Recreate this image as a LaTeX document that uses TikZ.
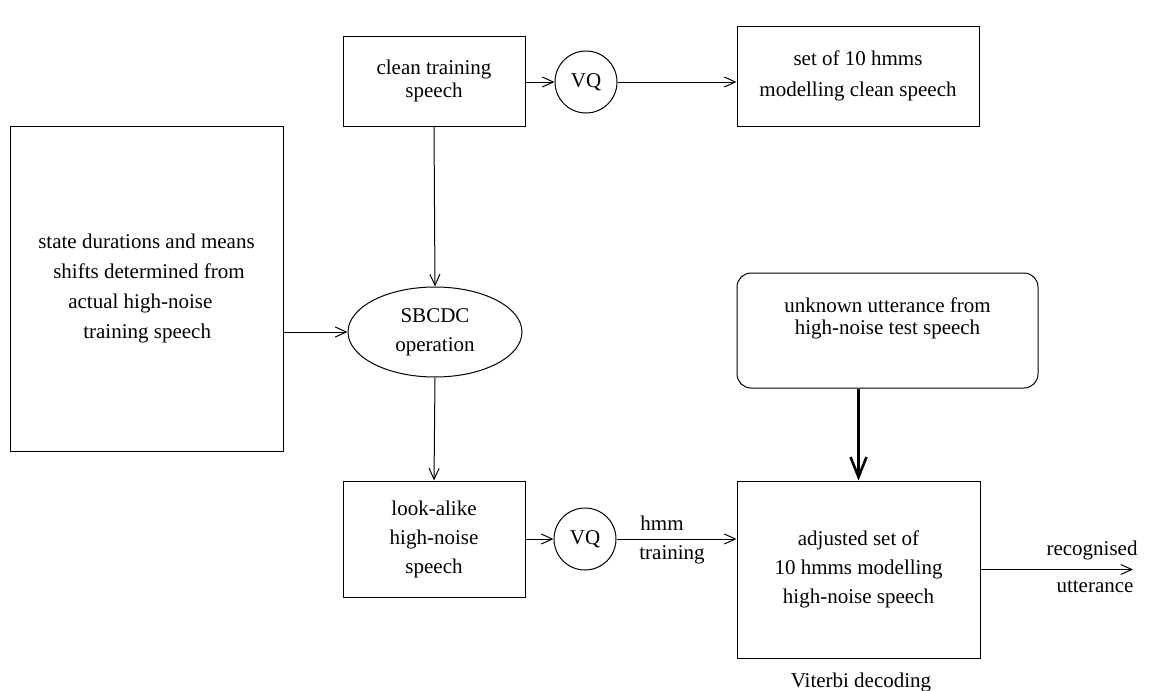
\documentclass[tikz,border=0pt]{standalone}
\usepackage{fontspec}
\setmainfont{Liberation Serif}
\newfontfamily\tms{Liberation Serif}
\usetikzlibrary{arrows.meta,shapes.geometric}
\tikzset{
  txt/.style={font=\tms\fontsize{21}{29}\selectfont, align=center, inner sep=0pt},
  box/.style={txt, draw, line width=1pt},
  vq/.style={txt, draw, circle, line width=1pt, minimum size=62pt},
  arr/.style={line width=1pt, -{Straight Barb[length=11pt,width=10pt]}},
  thickarr/.style={line width=2.6pt, -{Straight Barb[length=20pt,width=16pt]}},
}
\begin{document}
\begin{tikzpicture}[x=1pt,y=-1pt]
\useasboundingbox (0,0) rectangle (1149,691);
% nodes
\node[box, align=left, minimum width=273pt, minimum height=325pt, font=\tms\fontsize{21}{30}\selectfont] (lb) at (146.5,288.5)
  {state durations and means\\\hspace*{15pt}shifts determined from\\\hspace*{30pt}actual high-noise\\\hspace*{45pt}training speech};
\node[box, minimum width=182pt, minimum height=90pt, font=\tms\fontsize{21}{23}\selectfont] (ctb) at (434,81)
  {clean training\\speech};
\node[vq] (vq1) at (586,82) {VQ};
\node[box, minimum width=242pt, minimum height=100pt, font=\tms\fontsize{21}{31}\selectfont] (csb) at (858,76)
  {set of 10 hmms\\modelling clean speech};
\node[txt, draw, ellipse, line width=1pt, minimum width=174pt, minimum height=90pt] (op) at (435,332)
  {SBCDC\\operation};
\node[box, minimum width=182pt, minimum height=116pt] (lab) at (434,539)
  {look-alike\\high-noise\\speech};
\node[vq] (vq2) at (585,539) {VQ};
\node[box, rounded corners=14pt, minimum width=301pt, minimum height=115pt, font=\tms\fontsize{21}{22}\selectfont] (ub) at (887.5,330.5)
  {unknown utterance from\\high-noise test speech\\[6pt]};
\node[box, minimum width=243pt, minimum height=177pt] (adj) at (858.5,569.5)
  {adjusted set of\\10 hmms modelling\\high-noise speech};
\node[txt] (vit) at (861,682) {Viterbi decoding};
\node[txt] (hmm) at (662,523) {hmm};
\node[txt] (trn) at (672,555) {training};
\node[txt] (rec) at (1092,550) {recognised};
\node[txt] (utt) at (1095,587) {utterance};
\coordinate (out) at (1133,569.5);
% connectors
\draw[arr] (ctb.east |- vq1) -- (vq1.west);
\draw[arr] (vq1.east) -- (vq1.east -| csb.west);
\draw[arr] (ctb.south) -- (op.north);
\draw[arr] (op.west -| lb.east) -- (op.west);
\draw[arr] (op.south) -- (lab.north);
\draw[arr] (lab.east |- vq2) -- (vq2.west);
\draw[arr] (vq2.east) -- (vq2.east -| adj.west);
\draw[thickarr] (adj.north |- ub.south) -- (adj.north);
\draw[arr] (adj.east) -- (out);
\end{tikzpicture}
\end{document}
